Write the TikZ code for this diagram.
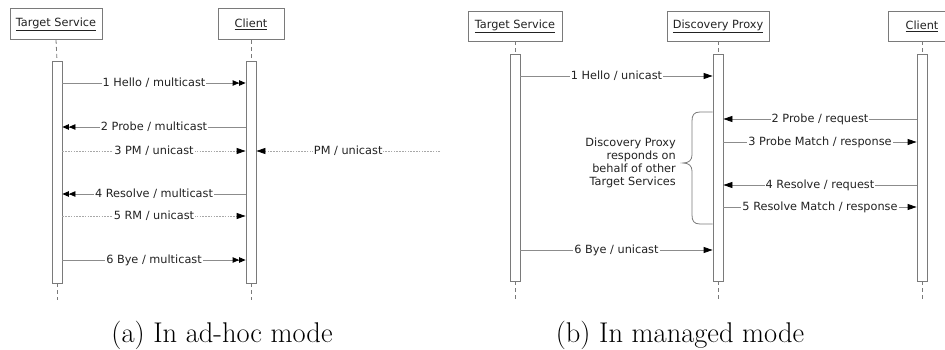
\documentclass[tikz,border=0pt]{standalone}
\usepackage{fontspec}
\newfontfamily\diagfont{DejaVu Sans}
\usetikzlibrary{arrows.meta,calc}
\definecolor{boxgray}{HTML}{7A7A7A}
\definecolor{linegray}{HTML}{8C8C8C}
\definecolor{dotgray}{HTML}{A8A8A8}
\definecolor{txtgray}{HTML}{222222}
\tikzset{
  actor/.style={draw=boxgray, line width=0.8pt, fill=white, minimum height=31pt,
    inner sep=0pt, font=\diagfont\fontsize{11.3}{13}\selectfont, text=txtgray},
  actbar/.style={draw=boxgray, line width=0.8pt, fill=white, minimum width=10pt,
    inner sep=0pt},
  lifeline/.style={draw=boxgray, line width=0.8pt, dash pattern=on 4pt off 3pt},
  msg/.style={draw=linegray, line width=0.8pt},
  reply/.style={draw=dotgray, line width=0.8pt, dash pattern=on 1.6pt off 1.2pt},
  onetip/.style={-{Triangle[color=black,length=9pt,width=6pt]}},
  twotip/.style={-{Triangle[color=black,length=6.5pt,width=5.5pt]Triangle[color=black,length=6.5pt,width=5.5pt]}},
  lbl/.style={fill=white, inner sep=1pt, text=txtgray,
    font=\diagfont\fontsize{11.3}{13}\selectfont},
  note/.style={align=right, text=txtgray, inner sep=0pt,
    font=\diagfont\fontsize{11.3}{13}\selectfont},
  caption/.style={inner sep=0pt, font=\fontsize{28.5}{32}\selectfont}
}
\begin{document}
\begin{tikzpicture}[x=1pt,y=-1pt]
\useasboundingbox (0,0) rectangle (945,350);
\clip (0,0) rectangle (945,350);

% ---------- (a) ad-hoc mode ----------
\node[actor, minimum width=92pt] (tsA) at (56,24) {\underline{Target Service}};
\node[actor, minimum width=66pt] (clA) at (251,24) {\underline{Client}};
\node[actbar, minimum height=222pt] (tsbarA) at (57,172) {};
\node[actbar, minimum height=222pt] (clbarA) at (251,172) {};
\coordinate (endA1) at (57,300);
\coordinate (endA2) at (251,300);
\draw[lifeline] (tsA.south) -- (tsbarA.north);
\draw[lifeline] (tsbarA.south) -- (endA1);
\draw[lifeline] (clA.south) -- (clbarA.north);
\draw[lifeline] (clbarA.south) -- (endA2);

\coordinate (a1) at (0,83);
\coordinate (a2) at (0,127);
\coordinate (a3) at (0,151);
\coordinate (a4) at (0,194);
\coordinate (a5) at (0,216);
\coordinate (a6) at (0,260);
\coordinate (pmsrc) at (440,151);

\draw[msg, twotip] (tsbarA.east |- a1) -- node[lbl] {1 Hello / multicast} (clbarA.west |- a1);
\draw[msg, twotip] (clbarA.west |- a2) -- node[lbl] {2 Probe / multicast} (tsbarA.east |- a2);
\draw[reply, onetip] (tsbarA.east |- a3) -- node[lbl] {3 PM / unicast} (clbarA.west |- a3);
\draw[reply, onetip] (pmsrc) -- node[lbl, pos=0.5] {PM / unicast} (clbarA.east |- a3);
\draw[msg, twotip] (clbarA.west |- a4) -- node[lbl] {4 Resolve / multicast} (tsbarA.east |- a4);
\draw[reply, onetip] (tsbarA.east |- a5) -- node[lbl] {5 RM / unicast} (clbarA.west |- a5);
\draw[msg, twotip] (tsbarA.east |- a6) -- node[lbl] {6 Bye / multicast} (clbarA.west |- a6);

\node[caption] (capA) at (222,335) {(a) In ad-hoc mode};

% ---------- (b) managed mode ----------
\node[actor, minimum width=94pt, minimum height=30pt] (tsB) at (515,26) {\underline{Target Service}};
\node[actor, minimum width=102pt, minimum height=30pt] (dpB) at (718,26) {\underline{Discovery Proxy}};
\node[actor, minimum width=68pt, minimum height=30pt] (clB) at (922,26) {\underline{Client}};
\node[actbar, minimum height=227pt] (tsbarB) at (515,167.5) {};
\node[actbar, minimum height=227pt] (dpbarB) at (718,167.5) {};
\node[actbar, minimum height=227pt] (clbarB) at (922,167.5) {};
\coordinate (endB1) at (515,300);
\coordinate (endB2) at (718,300);
\coordinate (endB3) at (922,300);
\draw[lifeline] (tsB.south) -- (tsbarB.north);
\draw[lifeline] (tsbarB.south) -- (endB1);
\draw[lifeline] (dpB.south) -- (dpbarB.north);
\draw[lifeline] (dpbarB.south) -- (endB2);
\draw[lifeline] (clB.south) -- (clbarB.north);
\draw[lifeline] (clbarB.south) -- (endB3);

\coordinate (b1) at (0,76);
\coordinate (b2) at (0,119);
\coordinate (b3) at (0,142);
\coordinate (b4) at (0,185);
\coordinate (b5) at (0,207);
\coordinate (b6) at (0,250);

\draw[msg, onetip] (tsbarB.east |- b1) -- node[lbl] {1 Hello / unicast} (dpbarB.west |- b1);
\draw[msg, onetip] (clbarB.west |- b2) -- node[lbl] {2 Probe / request} (dpbarB.east |- b2);
\draw[msg, onetip] (dpbarB.east |- b3) -- node[lbl] {3 Probe Match / response} (clbarB.west |- b3);
\draw[msg, onetip] (clbarB.west |- b4) -- node[lbl] {4 Resolve / request} (dpbarB.east |- b4);
\draw[msg, onetip] (dpbarB.east |- b5) -- node[lbl] {5 Resolve Match / response} (clbarB.west |- b5);
\draw[msg, onetip] (tsbarB.east |- b6) -- node[lbl] {6 Bye / unicast} (dpbarB.west |- b6);

% curly brace spanning the proxy's answers
\coordinate (brtop) at (0,112);
\coordinate (brbot) at (0,224);
\draw[draw=boxgray, line width=0.8pt]
  (dpbarB.west |- brtop) -- (700,112)
  .. controls (694,112) and (692,115) .. (692,121)
  -- (692,155)
  .. controls (692,160) and (689,163) .. (683,163)
  .. controls (689,163) and (692,166) .. (692,171)
  -- (692,215)
  .. controls (692,221) and (694,224) .. (700,224)
  -- (dpbarB.west |- brbot);
\node[note, anchor=east] (noteB) at (676,163)
  {Discovery Proxy\\responds on\\behalf of other\\Target Services};

\node[caption] (capB) at (680,335) {(b) In managed mode};
\end{tikzpicture}
\end{document}
